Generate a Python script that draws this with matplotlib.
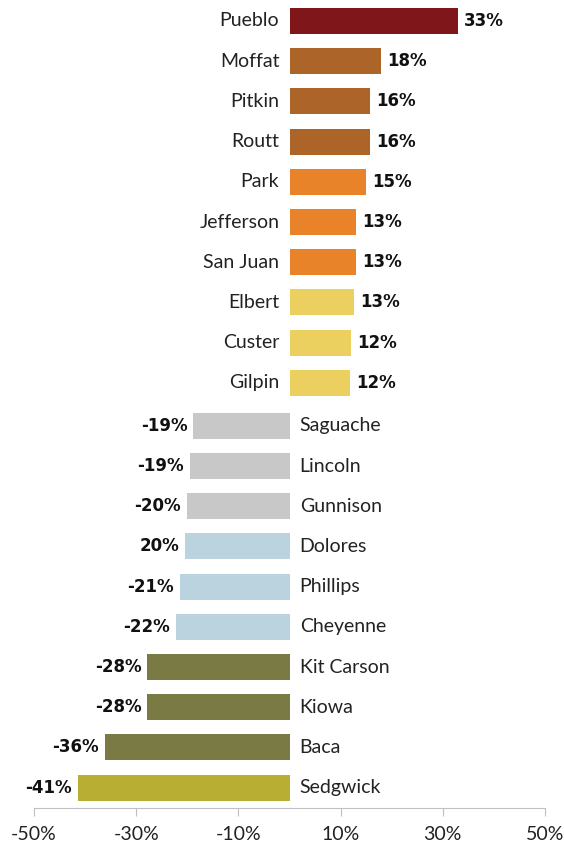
import numpy as np
import matplotlib
matplotlib.use("Agg")
import matplotlib.pyplot as plt

# counties, % change, printed labels and colours (top to bottom)
counties = ["Pueblo", "Moffat", "Pitkin", "Routt", "Park", "Jefferson", "San Juan",
            "Elbert", "Custer", "Gilpin", "Saguache", "Lincoln", "Gunnison", "Dolores",
            "Phillips", "Cheyenne", "Kit Carson", "Kiowa", "Baca", "Sedgwick"]
change = [33.0, 18.0, 15.7, 15.7, 14.9, 13.1, 13.1, 12.7, 12.0, 11.8,
          -18.8, -19.4, -20.0, -20.4, -21.4, -22.2, -27.8, -27.8, -36.1, -41.4]
value_labels = ["33%", "18%", "16%", "16%", "15%", "13%", "13%", "13%", "12%", "12%",
                "-19%", "-19%", "-20%", "20%", "-21%", "-22%", "-28%", "-28%", "-36%", "-41%"]
colors = ["#7f171a", "#ad6428", "#ad6428", "#ad6428", "#e8832a", "#e8832a", "#e8832a",
          "#ebd060", "#ebd060", "#ebd060", "#c8c8c8", "#c8c8c8", "#c8c8c8",
          "#bbd3de", "#bbd3de", "#bbd3de", "#7a7b44", "#7a7b44", "#7a7b44", "#b8ae33"]
xticks = [-50, -30, -10, 10, 30, 50]

W, H = 564, 850
fig = plt.figure(figsize=(W / 100, H / 100), dpi=100)
ax = fig.add_axes([34 / W, 42 / H, (545 - 34) / W, 808 / H])

y = np.arange(len(counties)) + (np.arange(len(counties)) >= 10) * 0.07
ax.barh(y, change, height=0.65, color=colors)

name_font = ["Lato", "DejaVu Sans"]
val_font = ["Liberation Sans Narrow", "DejaVu Sans"]
for yi, v, name, lab in zip(y, change, counties, value_labels):
    if v >= 0:
        ax.text(-2.0, yi, name, ha="right", va="center", fontsize=14,
                color="#222222", family=name_font)
        ax.text(v + 1.2, yi, lab, ha="left", va="center", fontsize=12,
                fontweight="bold", color="#111111", family=val_font)
    else:
        ax.text(2.0, yi, name, ha="left", va="center", fontsize=14,
                color="#222222", family=name_font)
        ax.text(v - 1.2, yi, lab, ha="right", va="center", fontsize=12,
                fontweight="bold", color="#111111", family=val_font)

ax.set_xlim(-50, 50)
ax.set_ylim((808 - 21) / 40.2, -21 / 40.2)
ax.set_xticks(xticks)
ax.set_xticklabels([f"{t}%" for t in xticks], family=name_font, fontsize=14,
                   color="#222222")
ax.set_yticks([])
for s in ["top", "right", "left"]:
    ax.spines[s].set_visible(False)
ax.spines["bottom"].set_color("#c0c0c0")
ax.tick_params(axis="x", length=6, color="#c0c0c0", pad=7)

fig.savefig("out.png", dpi=100)
